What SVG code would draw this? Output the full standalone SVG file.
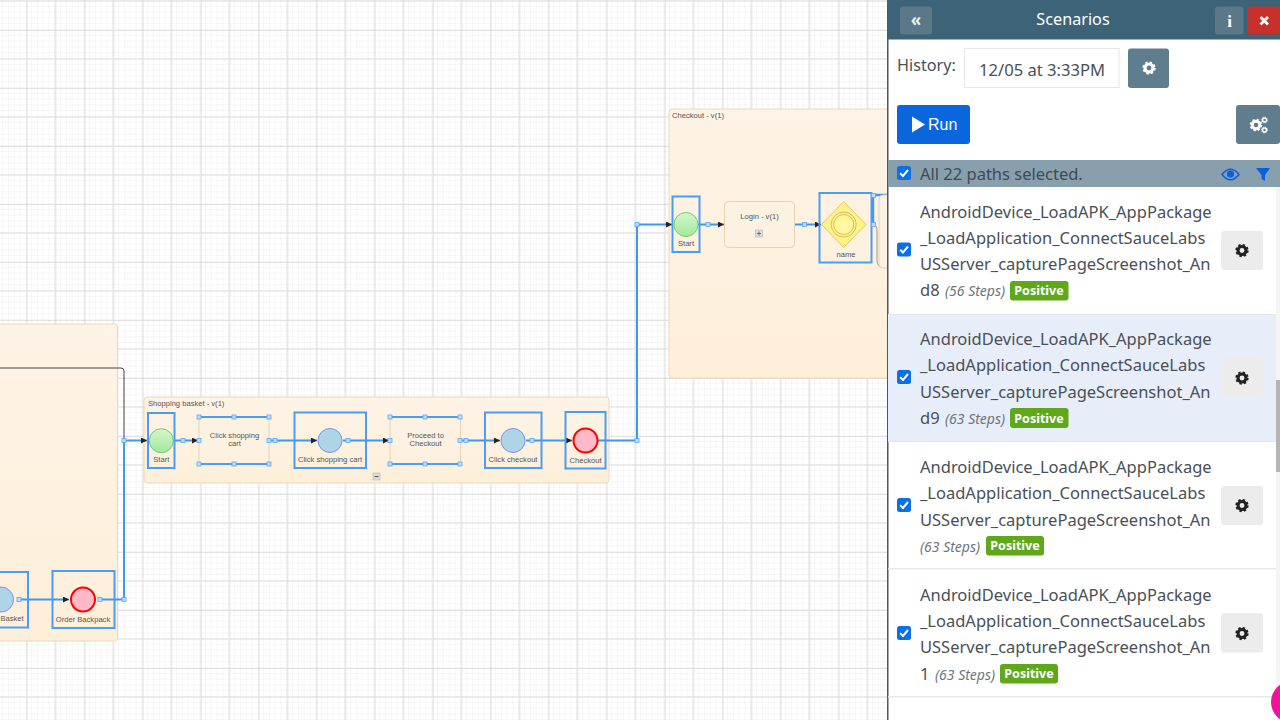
<svg xmlns="http://www.w3.org/2000/svg" xmlns:xlink="http://www.w3.org/1999/xlink" width="1280" height="720" viewBox="0 0 1280 720">
<style>
.lbl{font-family:"Liberation Sans",Arial,sans-serif;font-size:7.6px;fill:#555;text-anchor:middle}
.ttl{font-family:"Liberation Sans",Arial,sans-serif;font-size:7.6px;fill:#555}
.sel{fill:none;stroke:#4a9df5;stroke-width:2}
.edge{fill:none;stroke:#3f97f5;stroke-width:2}
.start{fill:url(#gGreen);stroke:#7cc47c;stroke-width:1}
.task{fill:#add5e6;stroke:#7d8ff0;stroke-width:1}
.end{fill:#ffb9c8;stroke:#f00;stroke-width:2}
.cont{fill:url(#gCream);stroke:#ecd9bd;stroke-width:1}
.rr{fill:#fdf1e1;stroke:#e6d3b8;stroke-width:1}
.ui{font-family:"Noto Sans","Open Sans",sans-serif;fill:#495057}
.path{font-size:16.5px}
.steps{font-size:14px;font-style:italic;fill:#6c757d}
.badge{fill:#5fa81a}
.badget{font-family:"Noto Sans","Open Sans",sans-serif;font-size:12.5px;font-weight:700;fill:#fff;text-anchor:middle}
.gearbtn{fill:#ececec}
.cb{fill:#0a6fe8}
.ck{fill:none;stroke:#fff;stroke-width:2}
</style>
<defs>
<pattern id="minor" width="5.8" height="5.8" patternUnits="userSpaceOnUse" x="26.3" y="1">
<path d="M5.8 0V5.8M0 5.8H5.8" fill="none" stroke="#eeeeee" stroke-width="1"/>
</pattern>
<pattern id="major" width="58" height="58" patternUnits="userSpaceOnUse" x="26.5" y="30">
<path d="M0 0V58M0 0H58" fill="none" stroke="#c6c6c6" stroke-width="1.2"/>
<path d="M29 0V58M0 29H58" fill="none" stroke="#dedede" stroke-width="1.2"/>
</pattern>
<linearGradient id="gCream" x1="0" y1="0" x2="0" y2="1"><stop offset="0" stop-color="#fdf3e6"/><stop offset="1" stop-color="#feefd9"/></linearGradient>
<linearGradient id="gGreen" x1="0" y1="0" x2="0" y2="1"><stop offset="0" stop-color="#d3f7cb"/><stop offset="1" stop-color="#a2e89c"/></linearGradient>
<radialGradient id="gYellow"><stop offset="0" stop-color="#fffaa8"/><stop offset="1" stop-color="#fff07a"/></radialGradient>
<marker id="arrow" markerWidth="7" markerHeight="7" refX="6" refY="3" orient="auto" markerUnits="userSpaceOnUse"><path d="M0 0L6 3L0 6Z" fill="#222"/></marker>
<g id="h"><rect x="-2" y="-2" width="4" height="4" fill="#bcdcff" stroke="#5aa8f5" stroke-width=".8"/></g>
<g id="gear"><circle r="4.4" fill="none" stroke="currentColor" stroke-width="3.400"/><circle r="6.300" fill="none" stroke="currentColor" stroke-width="2.200" stroke-dasharray="2.600 2.350"/></g>
<g id="check"><rect x="-7" y="-7" width="14" height="14" rx="2.5" class="cb"/><path d="M-3.8 0.2L-1 3L4 -3" class="ck"/></g>
</defs>

<g id="canvas">
<rect width="888" height="720" fill="#fff"/>
<rect width="888" height="720" fill="url(#minor)"/>
<rect width="888" height="720" fill="url(#major)"/>
</g>

<g id="node-container-left"><rect x="-20" y="324" width="137.500" height="317" rx="3" class="cont"/></g>
<g id="node-shopping-basket">
<rect x="144" y="397" width="465" height="86" rx="3" class="cont"/>
<text x="148" y="406" class="ttl">Shopping basket - v(1)</text>
<rect x="373" y="473" width="7" height="7" fill="#ddd" stroke="#aaa" stroke-width=".5"/><path d="M374.500 476.500h4" stroke="#555"/>
</g>
<g id="node-checkout-container">
<rect x="669" y="109" width="240" height="269" rx="3" class="cont"/>
<text x="672" y="118" class="ttl">Checkout - v(1)</text>
</g>

<g id="connectors">
<path d="M0 368H121Q124 368 124 371V440" fill="none" stroke="#444" stroke-width="1"/>
<path d="M873 224Q877 224 877 232V260Q877 267 883 267" fill="none" stroke="#999" stroke-width="1"/>
<path d="M18 599.500H69" class="edge" marker-end="url(#arrow)"/>
<path d="M98 599.500H121Q124 599.500 124 596V440" class="edge"/>
<path d="M124 440.500H147" class="edge" marker-end="url(#arrow)"/>
<path d="M173 440.500H198" class="edge" marker-end="url(#arrow)"/>
<path d="M270 440.500H317" class="edge" marker-end="url(#arrow)"/>
<path d="M343 440.500H389" class="edge" marker-end="url(#arrow)"/>
<path d="M461 440.500H500" class="edge" marker-end="url(#arrow)"/>
<path d="M526 440.500H572" class="edge" marker-end="url(#arrow)"/>
<path d="M598 440.500H634Q637 440.500 637 437.500V227Q637 224.500 640 224.500H672" class="edge" marker-end="url(#arrow)"/>
<path d="M698 224.500H724" class="edge" marker-end="url(#arrow)"/>
<path d="M795 224.500H821" class="edge" marker-end="url(#arrow)"/>
<path d="M873 224.500V198Q873 195 876 195H888" class="edge" style="stroke-width:2.400"/>
</g>

<g id="node-basket">
<rect x="-20" y="572" width="48" height="55.500" class="sel"/>
<circle cx="1" cy="599.500" r="12.500" class="task"/>
<text x="12" y="621" class="lbl">Basket</text>
</g>
<g id="node-order-backpack">
<rect x="52.500" y="571" width="62" height="57" class="sel"/>
<circle cx="83" cy="599.500" r="12" class="end"/>
<text x="83" y="622" class="lbl">Order Backpack</text>
</g>
<g id="node-start-1">
<rect x="148" y="413" width="26.500" height="55" class="sel"/>
<circle cx="161.300" cy="440.700" r="12" class="start"/>
<text x="161.300" y="462" class="lbl">Start</text>
</g>
<g id="node-click-cart">
<rect x="199" y="417" width="70" height="47" rx="3" class="rr"/>
<path d="M199 417H269M199 464H269" class="sel"/>
<text x="234.500" y="438" class="lbl">Click shopping</text>
<text x="234.500" y="446" class="lbl">cart</text>
</g>
<g id="node-click-cart-2">
<rect x="294.500" y="412.500" width="71.500" height="55.500" class="sel"/>
<circle cx="330" cy="440.500" r="12" class="task"/>
<text x="330" y="462" class="lbl">Click shopping cart</text>
</g>
<g id="node-proceed">
<rect x="390" y="417" width="70.500" height="47" rx="3" class="rr"/>
<path d="M390 417H460.500M390 464H460.500" class="sel"/>
<text x="425.500" y="438" class="lbl">Proceed to</text>
<text x="425.500" y="446" class="lbl">Checkout</text>
</g>
<g id="node-click-checkout">
<rect x="485" y="412.500" width="56.500" height="55.500" class="sel"/>
<circle cx="513" cy="440.500" r="12" class="task"/>
<text x="513" y="462" class="lbl">Click checkout</text>
</g>
<g id="node-checkout-end">
<rect x="565.500" y="412" width="40" height="56.500" class="sel"/>
<circle cx="585.500" cy="440.500" r="12" class="end"/>
<text x="585.500" y="463" class="lbl">Checkout</text>
</g>
<g id="node-start-2">
<rect x="672.500" y="196.500" width="27" height="55.500" class="sel"/>
<circle cx="686" cy="224.500" r="12" class="start"/>
<text x="686" y="246" class="lbl">Start</text>
</g>
<g id="node-login">
<rect x="724.500" y="201.500" width="70" height="46" rx="4" class="rr"/>
<text x="759.500" y="219" class="lbl">Login - v(1)</text>
<rect x="755.500" y="230" width="7" height="7" fill="#ddd" stroke="#aaa" stroke-width=".5"/><path d="M757 233.500h4M759 231.500v4" stroke="#555" stroke-width=".8"/>
</g>
<g id="node-name">
<path d="M843.700 201.500L866 224.500L843.700 247.500L821.500 224.500Z" fill="url(#gYellow)" stroke="#e2c96f"/>
<circle cx="843.700" cy="224.500" r="12.500" fill="none" stroke="#d9b959"/>
<circle cx="843.700" cy="224.500" r="10" fill="none" stroke="#d9b959"/>
<rect x="819.500" y="193" width="52" height="69.500" class="sel"/>
<text x="846" y="257" class="lbl">name</text>
</g>
<g id="node-next"><rect x="879" y="195" width="20" height="73" rx="4" class="rr"/></g>

<g id="handles">
<use xlink:href="#h" x="124" y="440.500"/><use xlink:href="#h" x="124" y="599.500"/><use xlink:href="#h" x="100" y="599.500"/><use xlink:href="#h" x="19" y="599.500"/><use xlink:href="#h" x="183" y="440.500"/>
<use xlink:href="#h" x="199" y="417"/><use xlink:href="#h" x="234" y="417"/><use xlink:href="#h" x="269" y="417"/><use xlink:href="#h" x="199" y="440.500"/><use xlink:href="#h" x="269" y="440.500"/><use xlink:href="#h" x="199" y="464"/><use xlink:href="#h" x="234" y="464"/><use xlink:href="#h" x="269" y="464"/><use xlink:href="#h" x="275" y="440.500"/>
<use xlink:href="#h" x="348" y="440.500"/>
<use xlink:href="#h" x="390" y="417"/><use xlink:href="#h" x="425" y="417"/><use xlink:href="#h" x="460" y="417"/><use xlink:href="#h" x="390" y="440.500"/><use xlink:href="#h" x="460" y="440.500"/><use xlink:href="#h" x="390" y="464"/><use xlink:href="#h" x="425" y="464"/><use xlink:href="#h" x="460" y="464"/><use xlink:href="#h" x="466" y="440.500"/>
<use xlink:href="#h" x="532" y="440.500"/><use xlink:href="#h" x="637" y="440.500"/><use xlink:href="#h" x="637" y="224.500"/><use xlink:href="#h" x="708" y="224.500"/><use xlink:href="#h" x="804.500" y="224.500"/><use xlink:href="#h" x="873.500" y="224.500"/><use xlink:href="#h" x="873.500" y="195.500"/>
</g>

<g id="panel">
<rect x="887" y="0" width="393" height="720" fill="#fff"/>
<rect x="887" y="0" width="1.500" height="720" fill="#555"/>
<rect x="888" y="0" width="392" height="39.500" fill="#3c6378"/>
<rect x="900" y="6.500" width="32" height="28" rx="3" fill="#5b7888"/>
<text x="916" y="26" font-family="Noto Sans,sans-serif" font-size="17" font-weight="700" fill="#e8eef2" text-anchor="middle">«</text>
<text x="1073" y="25" font-family="Noto Sans,sans-serif" font-size="16.200" fill="#fff" text-anchor="middle">Scenarios</text>
<rect x="1215" y="6.500" width="28.500" height="28" rx="3" fill="#5b7888"/>
<text x="1229.500" y="26.500" font-family="Liberation Serif,serif" font-size="17" font-weight="700" fill="#fff" text-anchor="middle">i</text>
<rect x="1247" y="6.500" width="33" height="28" rx="3" fill="#c9302c"/>
<path d="M1260.500 17L1268 24.500M1268 17L1260.500 24.500" stroke="#fff" stroke-width="2.800"/>

<text x="897" y="71" class="ui" font-size="16.200">History:</text>
<rect x="964.500" y="48.500" width="154.500" height="39" fill="#fff" stroke="#e6e6e6"/>
<text x="979" y="76" class="ui" font-size="16.600">12/05 at 3:33PM</text>
<rect x="1128" y="48.500" width="41" height="39.500" rx="3" fill="#5f7d8d"/>
<use xlink:href="#gear" transform="translate(1149 68) scale(.9)" color="#fff"/>

<rect x="897" y="105" width="73" height="39" rx="3" fill="#0a66dc"/>
<path d="M912 116.500L925 124.500L912 132.500Z" fill="#fff"/>
<text x="928" y="130" font-family="Liberation Sans,sans-serif" font-size="16" fill="#fff">Run</text>
<rect x="1236" y="105" width="44" height="39" rx="3" fill="#5f7d8d"/>
<use xlink:href="#gear" transform="translate(1256 125) scale(.85)" color="#fff"/>
<use xlink:href="#gear" transform="translate(1264.500 120) scale(.45)" color="#fff"/>
<use xlink:href="#gear" transform="translate(1264.500 130) scale(.45)" color="#fff"/>

<rect x="888" y="160" width="392" height="27" fill="#88a0ad"/>
<use xlink:href="#check" x="904" y="173"/>
<text x="920" y="180" class="ui" font-size="16.500" style="fill:#3f4a52">All 22 paths selected.</text>
<path d="M1222 174.500Q1230.500 164 1239 174.500Q1230.500 185 1222 174.500Z" fill="none" stroke="#0a5fe0" stroke-width="1.500"/><circle cx="1230.500" cy="174" r="3.600" fill="#0a5fe0"/>
<path d="M1256 168H1270L1265 175V181L1261.500 179V175Z" fill="#0a5fe0"/>

<rect x="1276" y="187" width="4" height="533" fill="#f4f4f4"/>
<rect x="1276" y="380" width="4" height="92" fill="#b5b5b5"/>

<g id="row-1">
<rect x="888" y="314" width="388" height="1" fill="#e8e8e8"/>
<text class="ui path" x="920" y="218">AndroidDevice_LoadAPK_AppPackage</text>
<text class="ui path" x="920" y="244">_LoadApplication_ConnectSauceLabs</text>
<text class="ui path" x="920" y="270">USServer_capturePageScreenshot_An</text>
<text class="ui path" x="920" y="296">d8</text>
<text class="ui steps" x="945" y="296">(56 Steps)</text>
<rect x="1010" y="281" width="58.500" height="19.500" rx="3" class="badge"/>
<text x="1039" y="295" class="badget">Positive</text>
<use xlink:href="#check" x="904" y="249.500"/>
<rect x="1221" y="231" width="42" height="39" rx="3" class="gearbtn"/>
<use xlink:href="#gear" transform="translate(1242 250.500) scale(.9)" color="#222"/>
</g>
<g id="row-2">
<rect x="888" y="315" width="388" height="126" fill="#e7edf9"/>
<rect x="888" y="441" width="388" height="1" fill="#e4e4e4"/>
<text class="ui path" x="920" y="345">AndroidDevice_LoadAPK_AppPackage</text>
<text class="ui path" x="920" y="371">_LoadApplication_ConnectSauceLabs</text>
<text class="ui path" x="920" y="398">USServer_capturePageScreenshot_An</text>
<text class="ui path" x="920" y="424">d9</text>
<text class="ui steps" x="945" y="424">(63 Steps)</text>
<rect x="1010" y="408" width="58.500" height="20" rx="3" class="badge"/>
<text x="1039" y="423" class="badget">Positive</text>
<use xlink:href="#check" x="904" y="377"/>
<rect x="1221" y="358" width="42" height="39.500" rx="3" class="gearbtn"/>
<use xlink:href="#gear" transform="translate(1242 378) scale(.9)" color="#222"/>
</g>
<g id="row-3">
<rect x="888" y="568" width="388" height="1.500" fill="#e8e8e8"/>
<text class="ui path" x="920" y="473">AndroidDevice_LoadAPK_AppPackage</text>
<text class="ui path" x="920" y="499">_LoadApplication_ConnectSauceLabs</text>
<text class="ui path" x="920" y="526">USServer_capturePageScreenshot_An</text>
<text class="ui steps" x="920" y="552">(63 Steps)</text>
<rect x="986" y="536" width="58" height="19.500" rx="3" class="badge"/>
<text x="1015" y="550" class="badget">Positive</text>
<use xlink:href="#check" x="904" y="505"/>
<rect x="1221" y="486" width="42" height="39" rx="3" class="gearbtn"/>
<use xlink:href="#gear" transform="translate(1242 505.500) scale(.9)" color="#222"/>
</g>
<g id="row-4">
<rect x="888" y="696" width="388" height="1.500" fill="#e8e8e8"/>
<text class="ui path" x="920" y="601">AndroidDevice_LoadAPK_AppPackage</text>
<text class="ui path" x="920" y="627">_LoadApplication_ConnectSauceLabs</text>
<text class="ui path" x="920" y="653">USServer_capturePageScreenshot_An</text>
<text class="ui path" x="920" y="680">1</text>
<text class="ui steps" x="935" y="680">(63 Steps)</text>
<rect x="1000" y="664" width="58" height="19.500" rx="3" class="badge"/>
<text x="1029" y="678" class="badget">Positive</text>
<use xlink:href="#check" x="904" y="633"/>
<rect x="1221" y="613" width="42" height="39.500" rx="3" class="gearbtn"/>
<use xlink:href="#gear" transform="translate(1242 633.500) scale(.9)" color="#222"/>
</g>
<circle cx="1292" cy="702" r="21" fill="#f0129a"/>
</g>
</svg>
